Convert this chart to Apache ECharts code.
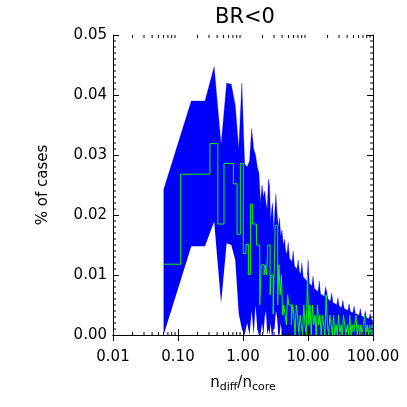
<!DOCTYPE html>
<html>
<head>
<meta charset="utf-8">
<script src="https://cdn.jsdelivr.net/npm/echarts@6/dist/echarts.min.js"></script>
<style>
  html, body { margin: 0; padding: 0; background: #fff; }
  #chart { width: 407px; height: 407px; }
</style>
</head>
<body>
<div id="chart"></div>
<script>
// bin centres of n_diff / n_core
const binX = [
  0.06, 0.16, 0.26, 0.36, 0.46, 0.56, 0.66, 0.76, 0.86, 0.96,
  1.06, 1.16, 1.26, 1.36, 1.46, 1.56, 1.66, 1.76, 1.86, 1.96,
  2.06, 2.16, 2.26, 2.36, 2.46, 2.56, 2.66, 2.76, 2.86, 2.96,
  3.06, 3.2, 3.34, 3.49, 3.65, 3.81, 3.98, 4.16, 4.35, 4.55,
  4.75, 4.96, 5.19, 5.42, 5.66, 5.92, 6.19, 6.46, 6.75, 7.06,
  7.38, 7.71, 8.05, 8.42, 8.8, 9.19, 9.6, 10.04, 10.49, 10.96,
  11.45, 11.97, 12.51, 13.07, 13.66, 14.27, 14.92, 15.59, 16.29, 17.02,
  17.79, 18.59, 19.42, 20.3, 21.21, 22.16, 23.16, 24.2, 25.29, 26.43,
  27.62, 28.86, 30.16, 31.52, 32.94, 34.42, 35.97, 37.59, 39.28, 41.05,
  42.9, 44.83, 46.84, 48.95, 51.15, 53.45, 55.86, 58.38, 61.0, 63.75,
  66.62, 69.61, 72.75, 76.02, 79.44, 83.02, 86.75, 90.66, 94.74, 99.0
]

// fraction of cases per bin (green histogram)
const pct = [
  0.0118, 0.0268, 0.0268, 0.0319, 0.0185, 0.0286, 0.0286, 0.0252, 0.0168, 0.0286,
  0.0136, 0.0151, 0.0101, 0.0218, 0.0185, 0.0185, 0.0150, 0.0150, 0.0050, 0.0117,
  0.0117, 0.0100, 0.0117, 0.0100, 0.0150, 0.0150, 0.0067, 0.0100, 0.0100, 0.0035,
  0.0100, 0.0183, 0.0183, 0.0050, 0.0117, 0.0067, 0.0100, 0.0033, 0.0050, 0.0033,
  0.0017, 0.0067, 0.0050, 0.0050, 0.0017, 0.0050, 0.0033, 0.0000, 0.0050, 0.0033,
  0.0000, 0.0033, 0.0017, 0.0000, 0.0050, 0.0017, 0.0000, 0.0100, 0.0017, 0.0050,
  0.0000, 0.0050, 0.0017, 0.0033, 0.0000, 0.0050, 0.0017, 0.0033, 0.0000, 0.0033,
  0.0017, 0.0000, 0.0067, 0.0017, 0.0000, 0.0033, 0.0017, 0.0000, 0.0033, 0.0000,
  0.0017, 0.0000, 0.0033, 0.0000, 0.0017, 0.0000, 0.0033, 0.0017, 0.0000, 0.0017,
  0.0000, 0.0033, 0.0000, 0.0017, 0.0000, 0.0017, 0.0033, 0.0000, 0.0017, 0.0000,
  0.0017, 0.0000, 0.0017, 0.0033, 0.0000, 0.0017, 0.0000, 0.0017, 0.0000, 0.0017
]

// upper / lower edge of the blue spread
const bandHi = [
  0.0242, 0.0390, 0.0390, 0.0447, 0.0317, 0.0420, 0.0418, 0.0383, 0.0310, 0.0420,
  0.0285, 0.0280, 0.0290, 0.0344, 0.0310, 0.0300, 0.0280, 0.0270, 0.0220, 0.0250,
  0.0230, 0.0240, 0.0220, 0.0210, 0.0260, 0.0250, 0.0190, 0.0210, 0.0220, 0.0170,
  0.0200, 0.0235, 0.0205, 0.0180, 0.0195, 0.0165, 0.0175, 0.0150, 0.0160, 0.0140,
  0.0135, 0.0155, 0.0128, 0.0125, 0.0122, 0.0140, 0.0115, 0.0112, 0.0110, 0.0125,
  0.0105, 0.0102, 0.0120, 0.0097, 0.0095, 0.0092, 0.0090, 0.0125, 0.0086, 0.0084,
  0.0082, 0.0098, 0.0078, 0.0076, 0.0074, 0.0072, 0.0090, 0.0069, 0.0067, 0.0066,
  0.0064, 0.0080, 0.0072, 0.0060, 0.0058, 0.0057, 0.0070, 0.0054, 0.0053, 0.0052,
  0.0050, 0.0062, 0.0048, 0.0047, 0.0046, 0.0058, 0.0044, 0.0043, 0.0042, 0.0041,
  0.0052, 0.0039, 0.0038, 0.0037, 0.0048, 0.0036, 0.0035, 0.0034, 0.0033, 0.0044,
  0.0032, 0.0031, 0.0030, 0.0040, 0.0029, 0.0028, 0.0027, 0.0036, 0.0026, 0.0025
]
const bandLo = [
  0, 0.0148, 0.0148, 0.0189, 0.0053, 0.0153, 0.0150, 0.0125, 0.0036, 0.0010,
  0, 0.0020, 0, 0.0040, 0, 0.0050, 0.0010, 0, 0, 0.0020,
  0, 0.0030, 0.0040, 0, 0.0010, 0, 0.0020, 0, 0, 0.0010,
  0.0010, 0.0040, 0.0030, 0, 0, 0.0020, 0, 0, 0, 0,
  0, 0, 0, 0, 0, 0, 0, 0, 0, 0,
  0, 0, 0, 0, 0, 0, 0, 0, 0, 0,
  0, 0, 0, 0, 0, 0, 0, 0, 0, 0,
  0, 0, 0, 0, 0, 0, 0, 0, 0, 0,
  0, 0, 0, 0, 0, 0, 0, 0, 0, 0,
  0, 0, 0, 0, 0, 0, 0, 0, 0, 0,
  0, 0, 0, 0, 0, 0, 0, 0, 0, 0
]

const xTickLabels = ['0.01', '0.10', '1.00', '10.00', '100.00']
const FONT = 'DejaVu Sans'

// histogram drawn like IDL psym=10: steps half way between bin centres
const edges = [binX[0]]
for (let i = 1; i < binX.length; i++) edges.push((binX[i - 1] + binX[i]) / 2)
edges.push(binX[binX.length - 1])
const stepData = edges.map((e, i) => [e, pct[Math.min(i, pct.length - 1)]])

// minor ticks: 2..9 per decade on x, every 0.001 on y
const xMinor = []
for (let d = -2; d < 2; d++) {
  for (let m = 2; m <= 9; m++) xMinor.push(m * Math.pow(10, d))
}
const yMinor = []
for (let k = 1; k < 50; k++) if (k % 10) yMinor.push(k / 1000)

const chart = echarts.init(document.getElementById('chart'))

const tickStyle = { show: true, inside: true, length: 6, lineStyle: { color: '#000', width: 1 } }
const lineStyle = { show: true, lineStyle: { color: '#000', width: 1 } }

const tick = (x1, y1, x2, y2) => ({
  type: 'line',
  shape: { x1, y1, x2, y2 },
  style: { stroke: '#000', lineWidth: 1 },
})

chart.setOption({
  animation: false,
  backgroundColor: '#fff',
  grid: { left: 113, right: 34, top: 35, bottom: 72, containLabel: false },
  graphic: [
    {
      type: 'text',
      x: 245,
      y: 18,
      style: {
        text: 'BR<0',
        fontFamily: FONT,
        fontSize: 21,
        fill: '#000',
        textAlign: 'center',
        textVerticalAlign: 'middle',
      },
    },
  ],
  xAxis: [
    {
      type: 'log',
      min: 0.01,
      max: 100,
      position: 'bottom',
      z: 10,
      axisLine: lineStyle,
      axisTick: tickStyle,
      splitLine: { show: false },
      axisLabel: {
        margin: 15,
        color: '#000',
        fontFamily: FONT,
        fontSize: 15,
        formatter: (v) => xTickLabels[Math.round(Math.log10(v)) + 2],
      },
      name: '{n|n}{s|diff}{n|/n}{s|core}',
      nameLocation: 'middle',
      nameGap: 38,
      nameTextStyle: {
        color: '#000',
        rich: {
          n: { fontFamily: FONT, fontSize: 15, color: '#000' },
          s: { fontFamily: FONT, fontSize: 11, color: '#000', padding: [9, 0, 0, 0] },
        },
      },
    },
    {
      type: 'log',
      min: 0.01,
      max: 100,
      position: 'top',
      z: 10,
      axisLine: lineStyle,
      axisTick: tickStyle,
      axisLabel: { show: false },
      splitLine: { show: false },
    },
  ],
  yAxis: [
    {
      type: 'value',
      min: 0,
      max: 0.05,
      interval: 0.01,
      position: 'left',
      z: 10,
      axisLine: lineStyle,
      axisTick: tickStyle,
      splitLine: { show: false },
      axisLabel: {
        margin: 6,
        color: '#000',
        fontFamily: FONT,
        fontSize: 15,
        formatter: (v) => v.toFixed(2),
      },
      name: '% of cases',
      nameLocation: 'middle',
      nameGap: 62,
      nameTextStyle: { color: '#000', fontFamily: FONT, fontSize: 15 },
    },
    {
      type: 'value',
      min: 0,
      max: 0.05,
      interval: 0.01,
      position: 'right',
      z: 10,
      axisLine: lineStyle,
      axisTick: tickStyle,
      splitLine: { show: false },
      axisLabel: { show: false },
    },
  ],
  series: [
    {
      // blue spread: polygon between bandHi and bandLo
      type: 'custom',
      data: [[1, 0]],
      silent: true,
      z: 2,
      renderItem: (params, api) => {
        const upper = binX.map((x, i) => api.coord([x, bandHi[i]]))
        const lower = binX.map((x, i) => api.coord([x, bandLo[i]])).reverse()
        return {
          type: 'group',
          children: [
            {
              type: 'polygon',
              shape: { points: upper.concat(lower) },
              style: { fill: '#0000ff' },
            },
            {
              type: 'polyline',
              shape: { points: upper },
              style: { stroke: 'rgba(0,0,255,0.3)', lineWidth: 1, fill: null },
            },
          ],
        }
      },
    },
    {
      name: 'pct',
      type: 'line',
      step: 'end',
      data: stepData,
      symbol: 'none',
      lineStyle: { color: '#00ff00', width: 1 },
      silent: true,
      z: 3,
    },
    {
      // minor ticks on all four sides
      type: 'custom',
      data: [[1, 0]],
      silent: true,
      clip: false,
      z: 5,
      renderItem: (params, api) => {
        const children = []
        xMinor.forEach((x) => {
          const b = api.coord([x, 0])
          const t = api.coord([x, 0.05])
          children.push(tick(b[0], b[1], b[0], b[1] - 3))
          children.push(tick(t[0], t[1], t[0], t[1] + 3))
        })
        yMinor.forEach((y) => {
          const l = api.coord([0.01, y])
          const r = api.coord([100, y])
          children.push(tick(l[0], l[1], l[0] + 3, l[1]))
          children.push(tick(r[0], r[1], r[0] - 3, r[1]))
        })
        return { type: 'group', children }
      },
    },
  ],
})

window.addEventListener('resize', () => chart.resize())
</script>
</body>
</html>
